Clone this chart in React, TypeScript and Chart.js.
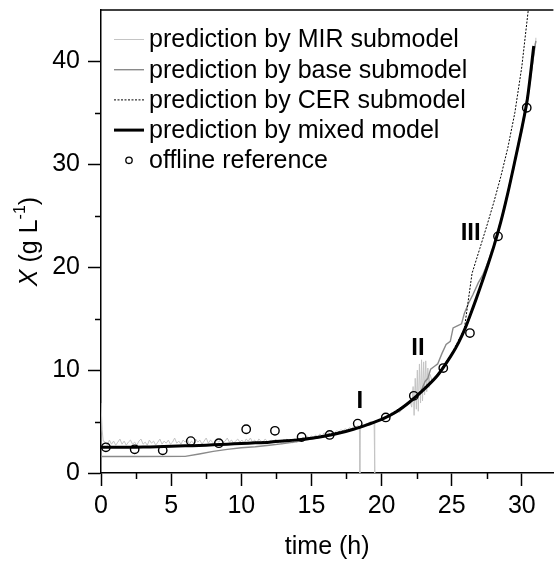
import React, { useEffect, useRef } from 'react';
import { Chart, registerables } from 'chart.js';

Chart.register(...registerables);

const FONT = '"Liberation Sans", Arial, Helvetica, sans-serif';

// ---- data (time in h, X in g/L) ----
const mirPoints: number[][] = [
  [0, 6.8], [0.08, 4.2], [0.16, 3.1], [0.3, 3.0], [0.45, 2.7], [0.6, 3.2], [0.75, 2.8], [0.9, 3.1], [1.05, 2.7], [1.2, 3.0],
  [1.35, 3.3], [1.5, 2.8], [1.65, 3.1], [1.8, 2.7], [1.95, 3.0], [2.1, 3.2], [2.25, 2.8], [2.4, 3.0], [2.55, 2.7], [2.7, 3.1],
  [2.85, 3.3], [3.0, 2.8], [3.15, 3.0], [3.3, 2.7], [3.45, 3.2], [3.6, 2.9], [3.75, 3.1], [3.9, 2.7], [4.05, 3.0], [4.2, 3.3],
  [4.35, 2.8], [4.5, 3.1], [4.65, 2.9], [4.8, 3.2], [4.95, 2.8], [5.1, 3.0], [5.25, 3.4], [5.4, 2.9], [5.55, 3.1], [5.7, 2.8],
  [5.85, 3.2], [6.0, 3.0], [6.15, 3.3], [6.3, 2.8], [6.45, 3.1], [6.6, 2.9], [6.75, 3.3], [6.9, 3.0], [7.05, 3.2], [7.2, 2.8],
  [7.35, 3.1], [7.5, 3.4], [7.65, 2.9], [7.8, 3.2], [7.95, 3.0], [8.1, 2.8], [8.25, 3.2], [8.4, 3.0], [8.55, 3.3], [8.7, 2.9],
  [8.85, 3.1], [9.0, 3.4], [9.15, 3.0], [9.3, 3.2], [9.45, 2.9], [9.6, 3.1], [9.75, 3.3], [9.9, 3.0], [10.05, 3.2], [10.2, 2.9],
  [10.35, 3.3], [10.5, 3.1], [10.65, 3.4], [10.8, 3.0], [10.95, 3.2], [11.1, 2.9], [11.25, 3.3], [11.4, 3.1], [11.55, 3.0], [11.7, 3.3],
  [11.85, 3.1], [12.0, 2.9], [12.15, 3.2], [12.3, 3.0], [12.45, 3.3], [12.6, 2.9], [12.75, 3.1], [12.9, 2.8], [13.05, 3.1], [13.2, 3.3],
  [13.35, 3.0], [13.5, 3.2], [13.65, 2.9], [13.8, 3.2], [13.95, 3.0], [14.1, 3.4], [14.25, 3.2], [14.4, 3.5], [14.55, 3.3], [14.7, 3.6],
  [14.85, 3.4], [15.0, 3.6], [15.15, 3.4], [15.3, 3.7], [15.45, 3.5], [15.6, 3.8], [15.75, 3.6], [15.9, 3.9], [16.05, 3.7], [16.2, 3.9],
  [16.35, 3.8], [16.5, 4.0], [16.65, 3.9], [16.8, 4.1], [16.95, 4.0], [17.1, 4.2], [17.25, 4.1], [17.4, 4.3], [17.55, 4.2], [17.7, 4.4],
  [17.85, 4.3], [18.0, 4.5], [18.15, 4.4], [18.3, 4.6], [18.42, 4.5], [18.45, 0], [18.48, 4.6], [18.6, 4.7], [18.75, 4.6], [18.9, 4.8],
  [19.05, 4.8], [19.2, 5.0], [19.35, 4.9], [19.47, 5.0], [19.5, 0], [19.53, 5.0], [19.65, 5.1], [19.8, 5.0], [19.95, 5.2], [20.1, 5.3],
  [20.25, 5.2], [20.4, 5.5], [20.55, 5.4], [20.7, 5.6], [20.85, 5.7], [21.0, 5.8], [21.15, 6.0], [21.3, 5.9], [21.45, 6.2], [21.6, 6.3],
  [21.75, 6.5], [21.9, 6.6], [22.05, 6.9], [22.15, 6.4], [22.25, 8.4], [22.32, 5.6], [22.4, 9.2], [22.48, 6.2], [22.55, 10.0], [22.62, 6.0],
  [22.7, 10.6], [22.78, 6.8], [22.85, 11.0], [22.92, 7.0], [23.0, 10.8], [23.07, 7.6], [23.15, 10.9], [23.22, 7.9], [23.3, 10.2], [23.38, 8.3],
  [23.45, 9.6], [23.6, 9.0], [23.75, 9.3], [23.9, 9.5], [24.05, 9.8], [24.2, 9.9], [24.35, 10.3], [24.5, 10.5], [24.65, 10.8], [24.8, 11.0],
  [24.95, 11.4], [25.1, 11.7], [25.25, 12.0], [25.4, 12.4], [25.55, 12.7], [25.7, 13.1], [25.85, 13.5], [26.0, 14.0], [26.15, 14.5], [26.3, 15.2],
  [26.45, 15.6], [26.6, 16.5], [26.75, 16.8], [26.9, 17.7], [27.05, 18.0], [27.2, 19.0], [27.35, 19.3], [27.5, 20.3], [27.65, 20.6], [27.8, 21.6],
  [27.95, 22.0], [28.1, 22.9], [28.25, 23.3], [28.4, 24.2], [28.55, 24.6], [28.7, 25.7], [28.85, 26.1], [29.0, 27.3], [29.15, 27.8], [29.3, 29.0],
  [29.45, 29.5], [29.6, 30.8], [29.75, 31.4], [29.9, 32.6], [30.05, 33.3], [30.2, 34.6], [30.35, 35.5], [30.5, 37.0], [30.65, 38.3], [30.8, 40.0],
  [30.95, 41.8], [31.0, 42.3],
];

const baseTime = [0, 3, 6, 7, 8, 9, 10, 11, 12, 13, 14, 15, 16, 17, 18, 19, 20, 21, 22, 22.8, 23.1, 23.3, 23.5, 23.8, 24.0, 24.3, 24.6, 24.9, 25.1, 25.4, 25.7, 25.9, 26.2, 26.5, 26.9, 27.2, 27.5, 28, 28.5, 29, 29.5, 30, 30.5, 31];
const baseX = [1.6, 1.6, 1.62, 1.85, 2.1, 2.3, 2.45, 2.55, 2.7, 2.85, 3.05, 3.3, 3.6, 3.9, 4.3, 4.7, 5.2, 5.9, 6.9, 7.9, 8.9, 9.2, 10.1, 10.4, 10.6, 11.6, 12.5, 12.8, 14.1, 14.3, 14.5, 15.5, 16.5, 17.3, 18.5, 19.2, 20.2, 22.1, 24.5, 27.3, 30.4, 33.6, 37.4, 42.0];

const cerTime = [0, 5, 10, 15, 18, 20, 22, 24, 25, 25.9, 26.45, 27, 27.5, 28, 28.5, 29, 29.5, 30, 30.5];
const cerX = [2.5, 2.6, 2.85, 3.4, 4.3, 5.2, 6.9, 9.6, 11.6, 14.0, 19.4, 21.8, 24.0, 26.3, 28.8, 31.6, 35.0, 39.5, 45.5];

const mixedTime = [0, 1, 2, 3, 4, 5, 6, 7, 8, 9, 10, 11, 12, 13, 14, 15, 16, 17, 18, 19, 20, 21, 22, 23, 24, 25, 25.5, 26, 26.5, 27, 27.5, 28, 28.5, 29, 29.5, 30, 30.4, 30.85];
const mixedX = [2.5, 2.5, 2.5, 2.52, 2.55, 2.6, 2.64, 2.68, 2.74, 2.8, 2.87, 2.93, 3.0, 3.1, 3.22, 3.38, 3.6, 3.88, 4.25, 4.7, 5.2, 5.9, 6.9, 8.1, 9.5, 11.5, 12.7, 14.2, 16.0, 17.9, 19.9, 22.0, 24.4, 27.2, 30.3, 33.5, 36.4, 41.5];

const refTime = [0.35, 2.4, 4.4, 6.4, 8.4, 10.35, 12.4, 14.3, 16.3, 18.3, 20.3, 22.3, 24.4, 26.3, 28.3, 30.35];
const refX = [2.5, 2.3, 2.2, 3.1, 2.9, 4.25, 4.1, 3.5, 3.7, 4.8, 5.4, 7.5, 10.2, 13.6, 23.0, 35.5];

const legendLabels = [
  'prediction by MIR submodel',
  'prediction by base submodel',
  'prediction by CER submodel',
  'prediction by mixed model',
  'offline reference',
];

const phaseLabels = ['I', 'II', 'III'];
const phaseTime = [18.45, 22.6, 26.35];
const phaseX = [6.97, 12.1, 23.3];

const xMinorTicks = [2.5, 7.5, 12.5, 17.5, 22.5, 27.5];
const yMinorTicks = [5, 15, 25, 35];

const toXY = (t: number[], v: number[]) => t.map((x, i) => ({ x, y: v[i] }));

const overlayPlugin = {
  id: 'overlay',
  afterDraw(chart: any) {
    const { ctx, chartArea, scales } = chart;
    const xs = scales.x;
    const ys = scales.y;
    ctx.save();
    ctx.strokeStyle = '#000';
    ctx.lineWidth = 1.5;
    // top frame line
    ctx.beginPath();
    ctx.moveTo(chartArea.left - 0.75, chartArea.top);
    ctx.lineTo(chartArea.right, chartArea.top);
    ctx.stroke();
    // minor ticks
    ctx.beginPath();
    for (const v of xMinorTicks) {
      const px = Math.round(xs.getPixelForValue(v)) + 0.5;
      ctx.moveTo(px, chartArea.bottom);
      ctx.lineTo(px, chartArea.bottom + 6);
    }
    for (const v of yMinorTicks) {
      const py = Math.round(ys.getPixelForValue(v)) + 0.5;
      ctx.moveTo(chartArea.left, py);
      ctx.lineTo(chartArea.left - 6, py);
    }
    ctx.stroke();

    // phase labels
    ctx.fillStyle = '#000';
    ctx.font = `bold 24px ${FONT}`;
    ctx.textAlign = 'center';
    ctx.textBaseline = 'middle';
    phaseLabels.forEach((s, i) => {
      ctx.fillText(s, xs.getPixelForValue(phaseTime[i]), ys.getPixelForValue(phaseX[i]));
    });

    // legend
    const ds = chart.data.datasets;
    const order = [0, 1, 2, 3, 4];
    const rowY0 = chartArea.top + 29.5;
    const pitch = 30.2;
    ctx.textAlign = 'left';
    ctx.font = `25px ${FONT}`;
    order.forEach((di, i) => {
      const d = ds[di];
      const cy = rowY0 + i * pitch;
      if (di === 4) {
        ctx.beginPath();
        ctx.setLineDash([]);
        ctx.lineWidth = 1.3;
        ctx.strokeStyle = '#000';
        ctx.arc(chartArea.left + 28, cy, 3.2, 0, Math.PI * 2);
        ctx.stroke();
      } else {
        ctx.beginPath();
        ctx.setLineDash(d.borderDash || []);
        ctx.lineWidth = d.borderWidth;
        ctx.strokeStyle = d.borderColor;
        ctx.moveTo(chartArea.left + 13, cy);
        ctx.lineTo(chartArea.left + 43, cy);
        ctx.stroke();
      }
      ctx.setLineDash([]);
      ctx.fillStyle = '#000';
      ctx.fillText(legendLabels[i], chartArea.left + 48, cy + 1);
    });

    // y axis title: X (g L^-1)
    const cx = 30;
    const cyMid = (chartArea.top + chartArea.bottom) / 2;
    ctx.translate(cx, cyMid);
    ctx.rotate(-Math.PI / 2);
    const parts = [
      { t: 'X', f: `italic 25px ${FONT}`, dy: 0 },
      { t: ' (g L', f: `25px ${FONT}`, dy: 0 },
      { t: '-1', f: `16px ${FONT}`, dy: -9 },
      { t: ')', f: `25px ${FONT}`, dy: 0 },
    ];
    let total = 0;
    for (const p of parts) {
      ctx.font = p.f;
      total += ctx.measureText(p.t).width;
    }
    let px = -total / 2;
    ctx.textBaseline = 'middle';
    for (const p of parts) {
      ctx.font = p.f;
      ctx.fillText(p.t, px, p.dy);
      px += ctx.measureText(p.t).width;
    }
    ctx.restore();
  },
};

export default function App() {
  const ref = useRef<HTMLCanvasElement>(null);
  useEffect(() => {
    document.body.style.margin = '0';
    const canvas = ref.current;
    if (!canvas) return;
    const chart = new Chart(canvas, {
      type: 'line',
      data: {
        datasets: [
          {
            label: legendLabels[0],
            data: mirPoints.map(([x, y]) => ({ x, y })),
            borderColor: '#c4c4c4',
            borderWidth: 1,
            pointRadius: 0,
            tension: 0,
            order: 4,
          },
          {
            label: legendLabels[1],
            data: toXY(baseTime, baseX),
            borderColor: '#8a8a8a',
            borderWidth: 1.4,
            pointRadius: 0,
            tension: 0,
            order: 3,
          },
          {
            label: legendLabels[2],
            data: toXY(cerTime, cerX),
            borderColor: '#000',
            borderWidth: 1,
            borderDash: [2, 1.5],
            pointRadius: 0,
            tension: 0,
            order: 2,
          },
          {
            label: legendLabels[3],
            data: toXY(mixedTime, mixedX),
            borderColor: '#000',
            borderWidth: 3,
            pointRadius: 0,
            tension: 0.3,
            order: 1,
          },
          {
            label: legendLabels[4],
            data: toXY(refTime, refX),
            showLine: false,
            pointRadius: 4.2,
            pointBorderWidth: 1.4,
            pointBorderColor: '#000',
            pointBackgroundColor: 'rgba(0,0,0,0)',
            borderColor: '#000',
            order: 0,
          },
        ] as any,
      },
      options: {
        animation: false,
        responsive: false,
        devicePixelRatio: 1,
        layout: { padding: { top: 10, right: 0, bottom: 0, left: 0 } },
        plugins: { legend: { display: false }, tooltip: { enabled: false } },
        scales: {
          x: {
            type: 'linear',
            min: 0,
            max: 32.25,
            afterFit: (s: any) => {
              s.height = 90;
              s.paddingLeft = 0;
              s.paddingRight = 0;
            },
            ticks: {
              stepSize: 5,
              includeBounds: false,
              autoSkip: false,
              maxRotation: 0,
              color: '#000',
              padding: 5,
              font: { family: FONT, size: 25 },
            },
            grid: {
              drawOnChartArea: false,
              drawTicks: true,
              tickLength: 13,
              tickColor: '#000',
              tickWidth: 1.5,
            },
            border: { display: true, color: '#000', width: 1.5 },
            title: {
              display: true,
              text: 'time (h)',
              color: '#000',
              font: { family: FONT, size: 25 },
              padding: { top: 0, bottom: 1 },
            },
          },
          y: {
            type: 'linear',
            min: 0,
            max: 45,
            afterFit: (s: any) => {
              s.width = 101;
              s.paddingTop = 0;
              s.paddingBottom = 0;
            },
            ticks: {
              stepSize: 10,
              includeBounds: false,
              color: '#000',
              padding: 8,
              font: { family: FONT, size: 25 },
            },
            grid: {
              drawOnChartArea: false,
              drawTicks: true,
              tickLength: 13,
              tickColor: '#000',
              tickWidth: 1.5,
            },
            border: { display: true, color: '#000', width: 1.5 },
          },
        },
      } as any,
      plugins: [overlayPlugin],
    });
    return () => chart.destroy();
  }, []);
  return (
    <div style={{ width: 559, height: 563 }}>
      <canvas ref={ref} width={559} height={563} style={{ display: 'block' }} />
    </div>
  );
}
